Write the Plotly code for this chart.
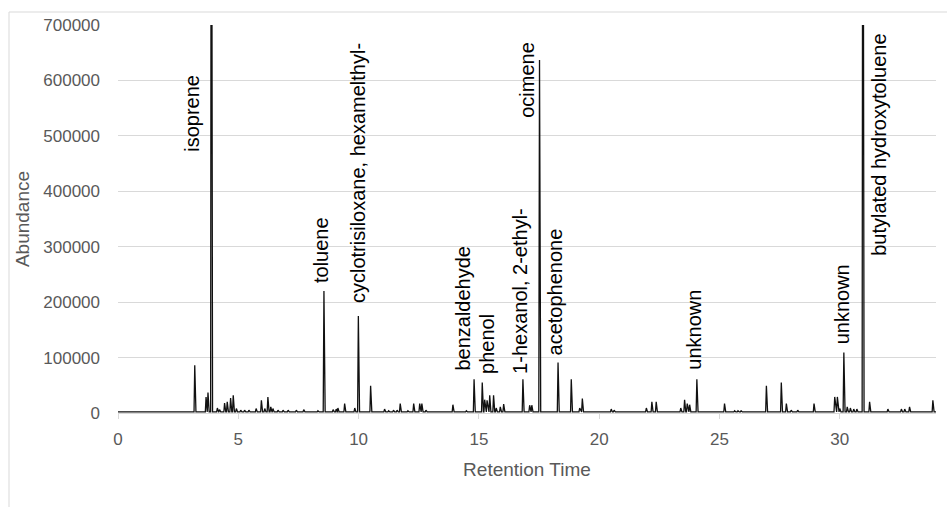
import plotly.graph_objects as go

# ---- data ----
peak_rt = [3.19, 3.66, 3.74, 3.88, 4.13, 4.22, 4.43, 4.54, 4.68, 4.79, 4.92, 5.10, 5.26, 5.44,
           5.74, 5.96, 6.10, 6.23, 6.35, 6.44, 6.65, 6.86, 7.07, 7.41, 7.72, 8.31, 8.56, 8.94,
           9.07, 9.14, 9.42, 9.84, 9.99, 10.50, 11.08, 11.25, 11.45, 11.60, 11.73, 12.05, 12.29,
           12.54, 12.63, 12.80, 13.92, 14.48, 14.80, 15.14, 15.24, 15.34, 15.45, 15.61, 15.72,
           15.89, 16.03, 16.83, 17.11, 17.20, 17.52, 18.29, 18.84, 19.19, 19.30, 20.50, 20.62,
           21.96, 22.19, 22.37, 23.39, 23.55, 23.66, 23.76, 24.06, 25.21, 25.63, 25.77, 25.90,
           26.95, 27.57, 27.78, 27.98, 28.25, 28.93, 29.79, 29.90, 30.00, 30.17, 30.31, 30.44,
           30.58, 30.71, 30.96, 31.24, 32.00, 32.56, 32.70, 32.90, 33.87]
peak_height = [86000, 29000, 37000, 1500000, 9000, 6000, 18000, 20000, 27000, 32000, 8000, 5000,
               5000, 5000, 8000, 23000, 8000, 29000, 11000, 8000, 5000, 5000, 5000, 5000, 6000,
               4000, 220000, 6000, 7000, 9000, 17000, 9000, 175000, 49000, 7000, 4000, 5000, 5000,
               17000, 4000, 17000, 17000, 17000, 5000, 15000, 4000, 61000, 55000, 24000, 23000,
               32000, 32000, 9000, 11000, 16000, 61000, 14000, 14000, 637000, 91000, 61000, 9000,
               26000, 7000, 5000, 9000, 20000, 20000, 9000, 24000, 17000, 15000, 61000, 17000,
               4000, 4000, 4000, 49000, 55000, 17000, 5000, 5000, 17000, 29000, 29000, 8000,
               109000, 11000, 9000, 7000, 7000, 1500000, 20000, 7000, 7000, 7000, 11000, 23000]
baseline = 2000
rt_start, rt_end = 0.0, 34.0

label_text = ["isoprene", "toluene", "cyclotrisiloxane, hexamelthyl-", "benzaldehyde", "phenol",
              "1-hexanol, 2-ethyl-", "ocimene", "acetophenone", "unknown", "unknown",
              "butylated hydroxytoluene"]
label_rt = [3.08, 8.44, 9.98, 14.34, 15.34, 16.71, 17.0, 18.16, 23.94, 30.08, 31.63]
label_y = [467000, 231000, 195000, 72000, 67000, 67000, 529000, 101000, 74500, 119700, 280000]

y_ticks = [0, 100000, 200000, 300000, 400000, 500000, 600000, 700000]
x_ticks = [0, 5, 10, 15, 20, 25, 30]

# ---- build the trace line from the peak table ----
xs, ys = [rt_start], [baseline]
for t, h in sorted(zip(peak_rt, peak_height)):
    xs += [t - 0.03, t, t + 0.05]
    ys += [baseline, h, baseline]
xs.append(rt_end)
ys.append(baseline)

fig = go.Figure()
fig.add_trace(go.Scatter(x=xs, y=ys, mode="lines",
                         line=dict(color="#111111", width=1.3), hoverinfo="skip",
                         showlegend=False))

for txt, x, y in zip(label_text, label_rt, label_y):
    fig.add_annotation(x=x, y=y, xref="x", yref="y", text=txt, textangle=-90,
                       showarrow=False, xanchor="center", yanchor="bottom",
                       font=dict(family="Liberation Sans, Arial, sans-serif", size=20,
                                 color="#000000"))

grey = "#595959"
fig.update_layout(
    width=947, height=507,
    margin=dict(l=118, r=11, t=25, b=94),
    paper_bgcolor="white", plot_bgcolor="white",
    font=dict(family="Liberation Sans, Arial, sans-serif", color=grey),
    xaxis=dict(range=[rt_start, rt_end], tickvals=x_ticks, ticks="outside", ticklen=5,
               tickcolor="#d9d9d9", showgrid=False, showline=True, linecolor="#d9d9d9",
               zeroline=False, tickfont=dict(size=17, color=grey), ticklabelstandoff=6,
               title=dict(text="Retention Time", font=dict(size=19, color=grey), standoff=14)),
    yaxis=dict(range=[0, 700000], tickvals=y_ticks, tickformat="d", showgrid=True,
               gridcolor="#d9d9d9", zeroline=False, showline=False, ticks="",
               tickfont=dict(size=17, color=grey), ticklabelstandoff=17,
               title=dict(text="Abundance", font=dict(size=19, color=grey), standoff=8)),
)

fig.add_shape(type="rect", xref="paper", yref="paper",
              x0=(9 - 118) / 818, x1=(952 - 118) / 818,
              y0=(413 - 512) / 388, y1=(413 - 12) / 388,
              line=dict(color="#d9d9d9", width=1), fillcolor="rgba(0,0,0,0)", layer="below")

fig.write_html("out.html")
